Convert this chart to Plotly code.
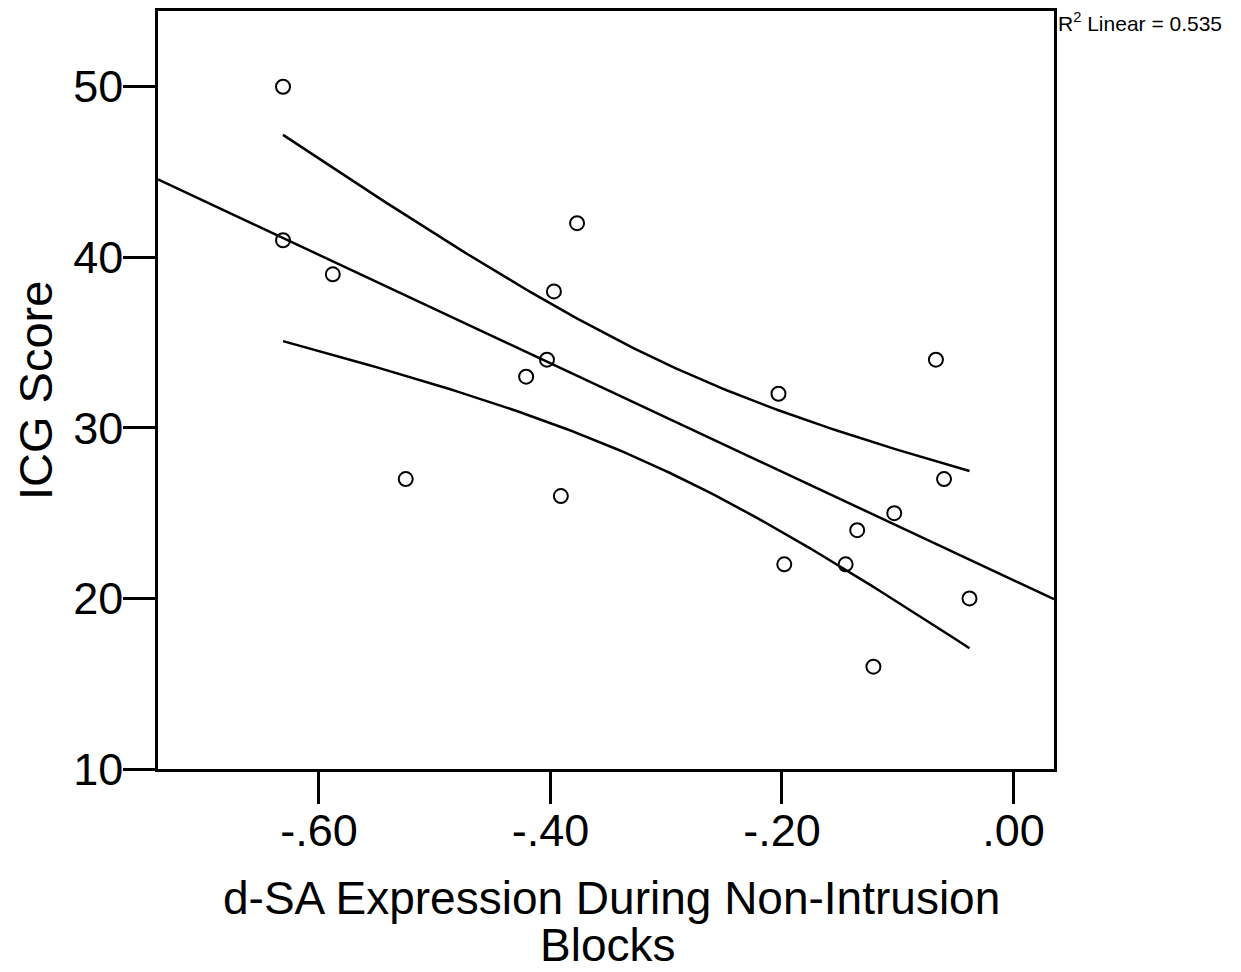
import numpy as np
import plotly.graph_objects as go

# Data
dsa_expression = [-0.631, -0.631, -0.588, -0.525, -0.421, -0.403, -0.397, -0.391, -0.377,
                  -0.203, -0.198, -0.145, -0.135, -0.121, -0.103, -0.067, -0.060, -0.038]
icg_score = [50, 41, 39, 27, 33, 34, 38, 26, 42,
             32, 22, 22, 24, 16, 25, 34, 27, 20]

x_tick_vals = [-0.6, -0.4, -0.2, 0.0]
x_tick_text = ["-.60", "-.40", "-.20", ".00"]
y_tick_vals = [10, 20, 30, 40, 50]
y_tick_text = ["10", "20", "30", "40", "50"]
x_range = [-0.739, 0.035]
y_range = [10, 54.44]
r2_label = "R<sup>2</sup> Linear = 0.535"

x = np.array(dsa_expression)
y = np.array(icg_score)
n = len(x)
slope, intercept = np.polyfit(x, y, 1)
resid = y - (slope * x + intercept)
s = np.sqrt(np.sum(resid ** 2) / (n - 2))
t_crit = 2.1199  # t(0.975, df=16)
xm = x.mean()
sxx = np.sum((x - xm) ** 2)

fit_x = np.linspace(x_range[0], x_range[1], 50)
fit_y = slope * fit_x + intercept
ci_x = np.linspace(x.min(), x.max(), 120)
ci_mid = slope * ci_x + intercept
half = t_crit * s * np.sqrt(1.0 / n + (ci_x - xm) ** 2 / sxx)

fig = go.Figure()
line_style = dict(color="black", width=2.5)
fig.add_trace(go.Scatter(x=fit_x, y=fit_y, mode="lines", line=line_style, hoverinfo="skip"))
fig.add_trace(go.Scatter(x=ci_x, y=ci_mid + half, mode="lines", line=line_style, hoverinfo="skip"))
fig.add_trace(go.Scatter(x=ci_x, y=ci_mid - half, mode="lines", line=line_style, hoverinfo="skip"))
fig.add_trace(go.Scatter(x=x, y=y, mode="markers",
                         marker=dict(symbol="circle-open", size=14, color="black",
                                     line=dict(color="black", width=2))))

font_family = "Liberation Sans, Arial, sans-serif"
axis_common = dict(showgrid=False, zeroline=False, showline=True, linecolor="black",
                   linewidth=2.5, mirror=True, ticks="outside", ticklen=32, tickwidth=2.5,
                   tickcolor="black", tickfont=dict(family=font_family, size=45, color="black"))

# page body has an 8px margin, so the figure is sized/offset to compensate
fig.update_layout(
    width=1233, height=964,
    margin=dict(l=150, r=187, t=0, b=203),
    paper_bgcolor="white", plot_bgcolor="white",
    showlegend=False,
    xaxis=dict(range=x_range, tickvals=x_tick_vals, ticktext=x_tick_text,
               ticklabelstandoff=-12, **axis_common),
    yaxis=dict(range=y_range, tickvals=y_tick_vals, ticktext=y_tick_text,
               ticklabelstandoff=-9, **axis_common),
    annotations=[
        dict(text=r2_label, xref="paper", yref="paper", x=1.002, y=(769 - 19) / 761,
             xanchor="left", yanchor="middle", showarrow=False,
             font=dict(family=font_family, size=21, color="black")),
        dict(text="ICG Score", xref="paper", yref="paper", x=(35 - 158) / 896, y=0.5,
             xanchor="center", yanchor="middle", textangle=-90, showarrow=False,
             font=dict(family=font_family, size=47, color="black")),
        dict(text="d-SA Expression During Non-Intrusion", xref="paper", yref="paper",
             x=(611 - 158) / 896, y=(769 - 899) / 761, xanchor="center", yanchor="middle",
             showarrow=False, font=dict(family=font_family, size=46, color="black")),
        dict(text="Blocks", xref="paper", yref="paper",
             x=(607 - 158) / 896, y=(769 - 946) / 761, xanchor="center", yanchor="middle",
             showarrow=False, font=dict(family=font_family, size=46, color="black")),
    ],
)

fig.write_html("out.html")
